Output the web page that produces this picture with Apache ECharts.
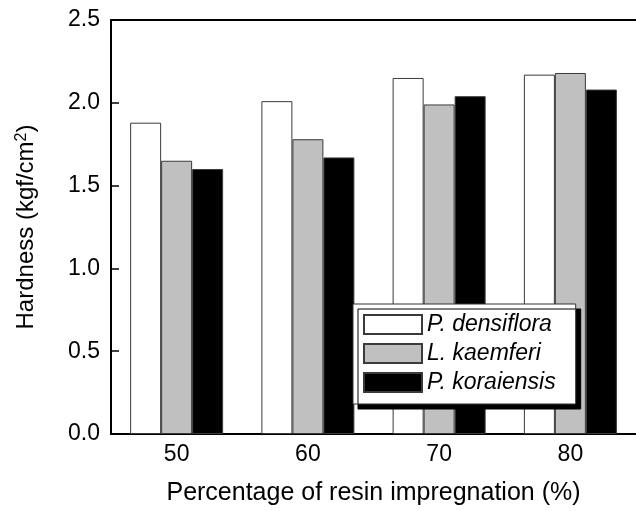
<!DOCTYPE html>
<html>
<head>
<meta charset="utf-8">
<script src="https://cdn.jsdelivr.net/npm/echarts@6/dist/echarts.min.js"></script>
<style>html,body{margin:0;padding:0;background:#fff}#c{width:636px;height:511px}</style>
</head>
<body>
<div id="c"></div>
<script>
var categories = ['50', '60', '70', '80'];
var seriesNames = ['P. densiflora', 'L. kaemferi', 'P. koraiensis'];
var densiflora = [1.88, 2.01, 2.15, 2.17];
var kaemferi = [1.65, 1.78, 1.99, 2.18];
var koraiensis = [1.60, 1.67, 2.04, 2.08];
var yTicks = ['0.0', '0.5', '1.0', '1.5', '2.0', '2.5'];

var font = 'Liberation Sans, Arial, Helvetica, sans-serif';
var chart = echarts.init(document.getElementById('c'), null, {renderer: 'canvas'});

function barSeries(name, data, fill) {
  return {
    name: name, type: 'bar', data: data,
    barWidth: 31, barGap: '0%',
    itemStyle: {color: fill, borderColor: '#3a3a3a', borderWidth: 1},
    emphasis: {disabled: true}
  };
}

chart.setOption({
  animation: false,
  backgroundColor: '#ffffff',
  grid: {left: 111, right: 0, top: 20, bottom: 76},
  legend: {
    left: 353, top: 304, orient: 'vertical',
    itemWidth: 58, itemHeight: 19, itemGap: 6,
    padding: [9, 20, 10, 10],
    backgroundColor: '#ffffff', borderColor: '#333333', borderWidth: 1,
    shadowColor: '#000000', shadowOffsetX: 5, shadowOffsetY: 5, shadowBlur: 0,
    textStyle: {fontFamily: font, fontSize: 23, fontStyle: 'italic', color: '#000', lineHeight: 22},
    data: seriesNames.map(function (n) { return {name: n, icon: 'rect'}; })
  },
  xAxis: [{
    type: 'category', data: categories, position: 'bottom',
    name: 'Percentage of resin impregnation (%)', nameLocation: 'middle', nameGap: 47,
    nameTextStyle: {fontFamily: font, fontSize: 25, color: '#000'},
    axisLine: {lineStyle: {color: '#000', width: 2}},
    axisTick: {inside: true, length: 8, alignWithLabel: true, lineStyle: {color: '#000', width: 1.5}},
    axisLabel: {fontFamily: font, fontSize: 23, color: '#000', margin: 9}
  }, {
    type: 'category', data: categories, position: 'top',
    axisLine: {show: true, lineStyle: {color: '#000', width: 2}},
    axisTick: {show: false}, axisLabel: {show: false}
  }],
  yAxis: {
    type: 'value', min: 0, max: 2.5, interval: 0.5,
    name: 'Hardness (kgf/cm{sup|2})', nameLocation: 'middle', nameGap: 73, nameRotate: 90,
    nameTextStyle: {fontFamily: font, fontSize: 24, color: '#000',
      rich: {sup: {fontFamily: font, fontSize: 16, color: '#000', verticalAlign: 'top', lineHeight: 15, padding: [0, 0, 14, 0]}}},
    axisLine: {show: true, lineStyle: {color: '#000', width: 2}},
    axisTick: {show: true, inside: true, length: 8, lineStyle: {color: '#000', width: 1.5}},
    splitLine: {show: false},
    axisLabel: {fontFamily: font, fontSize: 23, color: '#000', margin: 11,
      formatter: function (v) { var i = Math.round(v / 0.5); return yTicks[i]; }}
  },
  series: [
    barSeries(seriesNames[0], densiflora, '#ffffff'),
    barSeries(seriesNames[1], kaemferi, '#c0c0c0'),
    barSeries(seriesNames[2], koraiensis, '#000000')
  ]
});
</script>
</body>
</html>
